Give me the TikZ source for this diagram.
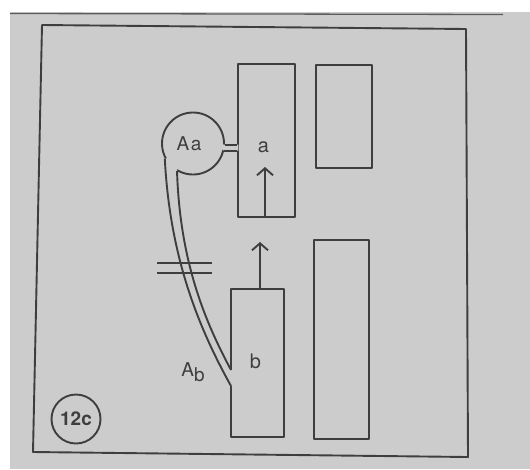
\documentclass[tikz,border=0pt]{standalone}
\usepackage{fontspec}
\setmainfont{TeX Gyre Heros}
\usetikzlibrary{arrows.meta,calc}
\definecolor{paper}{RGB}{204,204,204}
\definecolor{ink}{RGB}{62,62,62}
\begin{document}
\begin{tikzpicture}[x=1pt,y=-1pt,line width=1.9pt,line join=round,
  box/.style={draw=ink,line width=1.9pt,inner sep=0pt,rectangle},
  lbl/.style={text=ink,inner sep=0pt,font=\fontsize{19}{19}\selectfont},
  arr/.style={draw=ink,line width=1.9pt,-{Straight Barb[length=7pt,width=16pt,line width=1.9pt]}}]
\useasboundingbox (0,0) rectangle (530,469);
\fill[white] (0,0) rectangle (530,469);
\fill[paper] (10,12) rectangle (530,469);
\draw[ink!85,line width=1.3pt] (10,13.5) -- (503,14.5);
% frame
\draw[ink] (42,25) -- (466,29) -- (468,457) -- (33,452) -- cycle;
% boxes
\node[box,minimum width=57pt,minimum height=153pt] (a) at (266.5,140.5) {};
\node[box,minimum width=56pt,minimum height=103pt] (c) at (344,116.5) {};
\node[box,minimum width=53pt,minimum height=148pt] (b) at (257.5,363) {};
\node[box,minimum width=55pt,minimum height=199pt] (d) at (341.5,339.5) {};
% circle Aa
\node[draw=ink,circle,minimum size=62pt,inner sep=0pt] (Aa) at (193,143.5) {};
% channel ends on b
\coordinate (bo) at (231,386);
\coordinate (bi) at (231,370);
% openings
\fill[paper] (Aa.-2) -- ($(Aa.-2 -| a.west)+(1.4,0)$) -- ($(Aa.-13 -| a.west)+(1.4,0)$) -- (Aa.-13) -- ($(Aa.center)+(20,0)$) -- cycle;
\fill[paper] (Aa.208) .. controls (170,260) and (200,330) .. (bo) -- ($(bo)+(1.4,0)$) -- ($(bi)+(1.4,0)$) -- (bi) .. controls (207,325) and (180,265) .. (Aa.240) -- ($(Aa.center)!0.6!(Aa.224)$) -- cycle;
% neck
\draw[ink] (Aa.-2) -- (Aa.-2 -| a.west);
\draw[ink] (Aa.-13) -- (Aa.-13 -| a.west);
% channel
\draw[ink] (Aa.208) .. controls (170,260) and (200,330) .. (bo);
\draw[ink] (Aa.240) .. controls (180,265) and (207,325) .. (bi);
% cut marks
\draw[ink] (157,263) -- (212,263);
\draw[ink] (157,273) -- (212,273);
% arrows
\coordinate (tipa) at (265,167);
\coordinate (tipb) at (260,242);
\draw[arr] (a.south -| tipa) -- (tipa);
\draw[arr] (b.north -| tipb) -- (tipb);
% labels
\node[lbl] (tAa) at (189,143.5) {A\kern1.5pt a};
\node[lbl,font=\fontsize{20}{20}\selectfont] (ta) at (263.5,147.5) {a};
\node[lbl,font=\fontsize{20}{20}\selectfont] (tb) at (255.5,361) {b};
\node[lbl,anchor=base] (tAb) at (193,376) {A\raisebox{-5pt}{b}};
\node[draw=ink,circle,minimum size=49pt,inner sep=0pt,text=ink,font=\bfseries\fontsize{19}{19}\selectfont] (num) at (76,419) {12c};
\end{tikzpicture}
\end{document}
